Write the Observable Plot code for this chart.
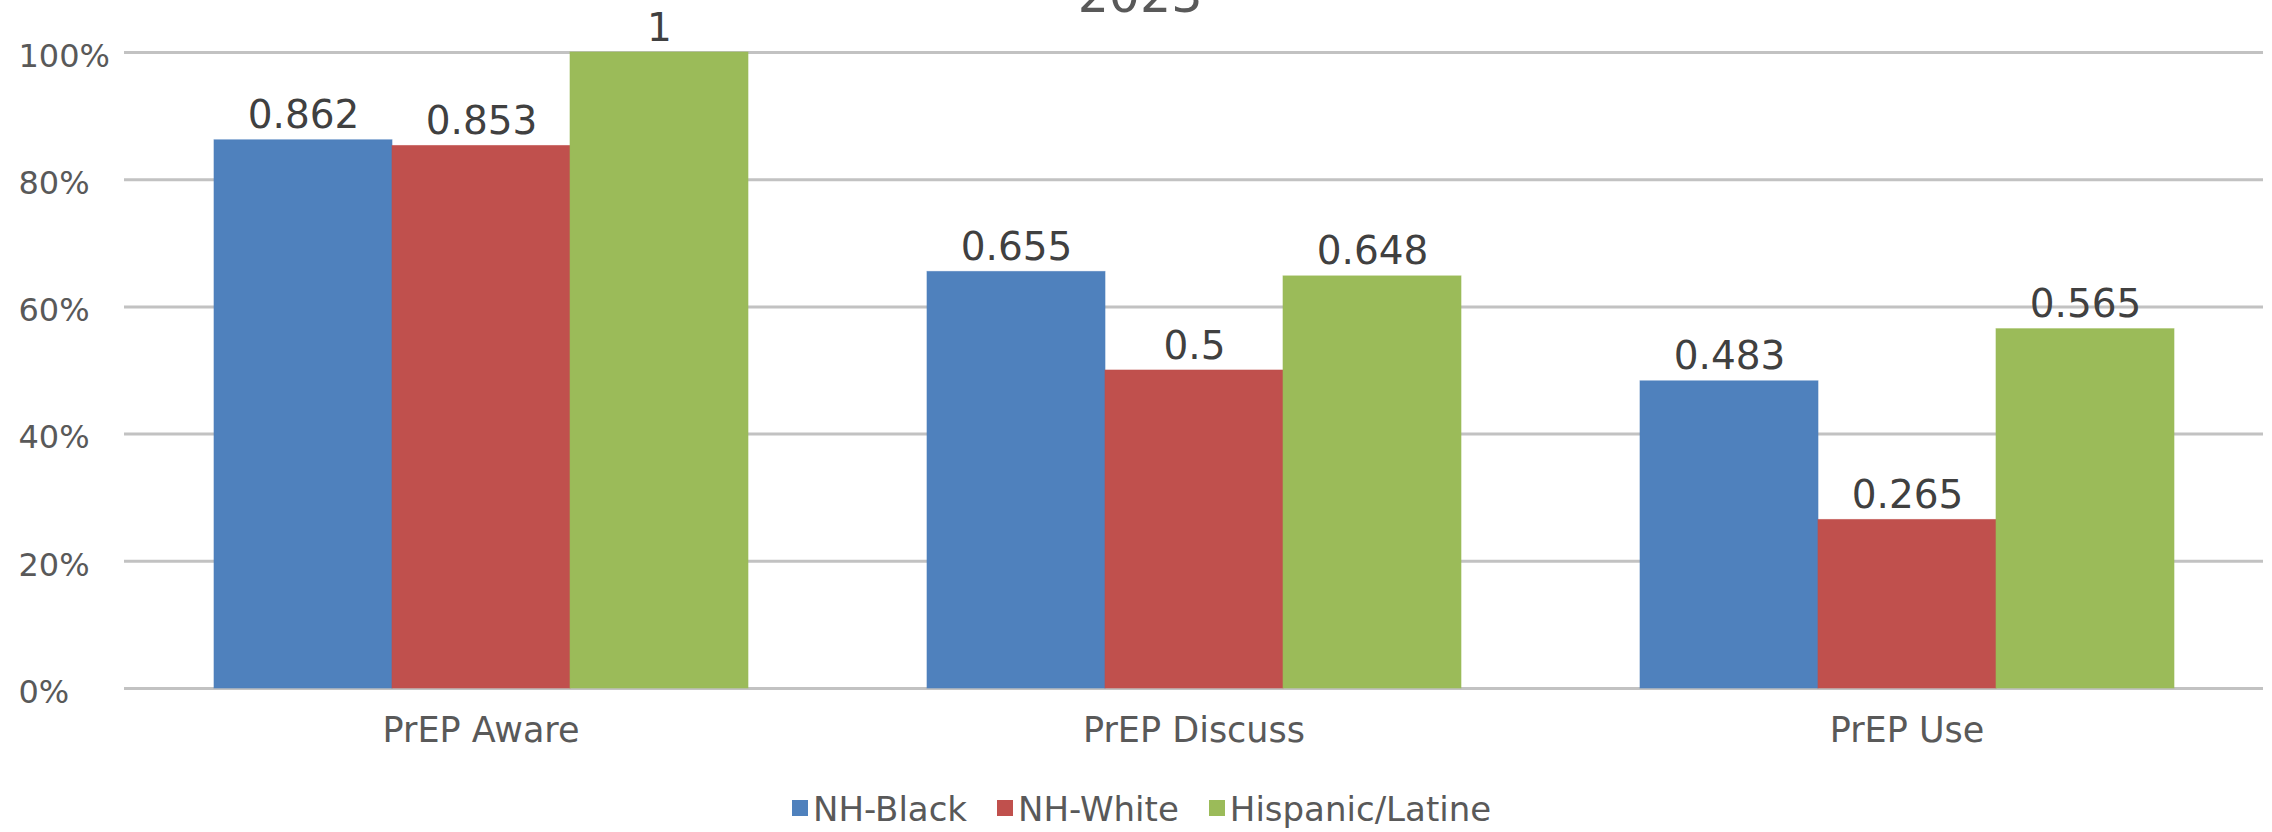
<!DOCTYPE html>
<html>
<head>
<meta charset="utf-8">
<script src="https://cdn.jsdelivr.net/npm/d3@7"></script>
<script src="https://cdn.jsdelivr.net/npm/@observablehq/plot@0.6"></script>
<style>
  html, body { margin: 0; padding: 0; background: #fff; }
  #wrap { position: relative; width: 2272px; height: 832px; overflow: hidden; background: #fff; font-family: "DejaVu Sans", sans-serif; }
  #title { position: absolutely; position: absolute; left: 0; width: 2272px; top: -29px; text-align: center; font-size: 49px; line-height: 49px; color: #595959; padding-left: 8px; box-sizing: border-box; }
  #chart { position: absolute; left: 0; top: 0; }
  #legend { position: absolute; left: 792px; top: 789px; height: 40px; display: flex; align-items: center; font-size: 34px; color: #595959; }
  .item { display: flex; align-items: center; margin-right: 30px; }
  .sw { width: 16px; height: 16px; margin-right: 5px; margin-top: -3px; }
</style>
</head>
<body>
<div id="wrap">
  <div id="title">2023</div>
  <div id="chart"></div>
  <div id="legend"></div>
</div>
<script>
const categories = ["PrEP Aware", "PrEP Discuss", "PrEP Use"];
const seriesNames = ["NH-Black", "NH-White", "Hispanic/Latine"];
const nhBlack = [0.862, 0.655, 0.483];
const nhWhite = [0.853, 0.5, 0.265];
const hispanicLatine = [1, 0.648, 0.565];
const colors = ["#4F81BD", "#C0504D", "#9BBB59"];
const yTicks = [0, 0.2, 0.4, 0.6, 0.8, 1];

const seriesValues = [nhBlack, nhWhite, hispanicLatine];
const data = [];
categories.forEach((c, i) => {
  seriesNames.forEach((s, j) => {
    data.push({category: c, series: s, value: seriesValues[j][i]});
  });
});

const fmt = v => String(v);

const chart = Plot.plot({
  width: 2272,
  height: 770,
  marginLeft: 123,
  marginRight: 8,
  marginTop: 52,
  marginBottom: 82,
  style: {fontFamily: "DejaVu Sans, sans-serif", background: "transparent", overflow: "visible"},
  fx: {domain: categories, padding: 0, label: null},
  x: {domain: seriesNames, paddingInner: 0, paddingOuter: 0.5, axis: null},
  y: {domain: [0, 1], axis: null},
  color: {domain: seriesNames, range: colors},
  marks: [
    Plot.ruleY(yTicks, {stroke: "#c2c2c2", strokeWidth: 3}),
    Plot.barY(data, {fx: "category", x: "series", y: "value", fill: "series", stroke: "series", strokeOpacity: 0.6, strokeWidth: 1}),
    Plot.text(data, {fx: "category", x: "series", y: "value", text: d => fmt(d.value), lineAnchor: "bottom", dy: -12, fontSize: 39, fill: "#404040"}),
    Plot.axisY({ticks: yTicks, tickFormat: d3.format(".0%"), tickSize: 0, tickPadding: 106, textAnchor: "start", fontSize: 32, fill: "#595959", dy: 4, label: null}),
    Plot.axisFx({anchor: "bottom", tickSize: 0, tickPadding: 29, fontSize: 35, fill: "#595959", label: null})
  ]
});
document.getElementById("chart").appendChild(chart);

const legend = document.getElementById("legend");
seriesNames.forEach((s, i) => {
  const item = document.createElement("div");
  item.className = "item";
  const sw = document.createElement("div");
  sw.className = "sw";
  sw.style.background = colors[i];
  const label = document.createElement("span");
  label.textContent = s;
  item.appendChild(sw);
  item.appendChild(label);
  legend.appendChild(item);
});
</script>
</body>
</html>
